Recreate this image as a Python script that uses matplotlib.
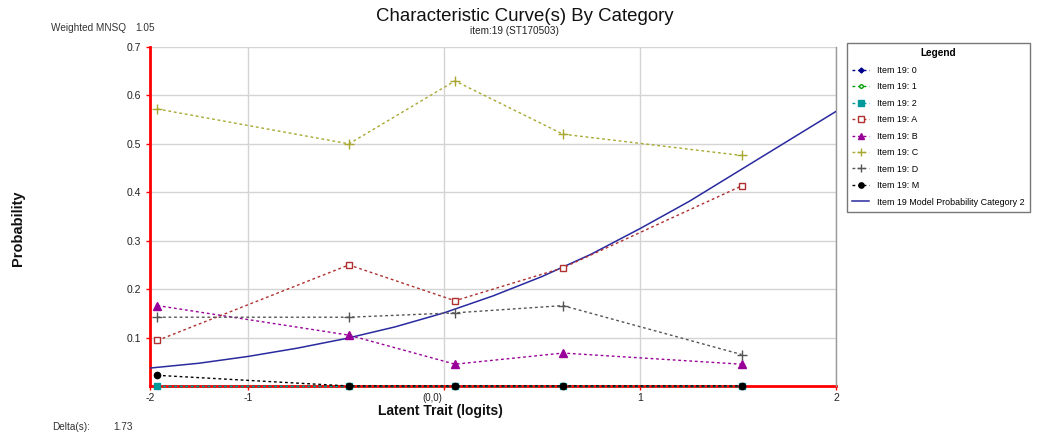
import matplotlib
matplotlib.use('Agg')
import matplotlib.pyplot as plt
import matplotlib.transforms as mtransforms

plt.rcParams['font.family'] = ['Liberation Sans', 'DejaVu Sans']

# group mean abilities (logits)
x_groups = [-1.462, -0.485, 0.056, 0.607, 1.518]

# observed proportions per category
cat_0 = [0, 0, 0, 0, 0]
cat_1 = [0, 0, 0, 0, 0]
cat_2 = [0, 0, 0, 0, 0]
cat_A = [0.094, 0.250, 0.176, 0.244, 0.413]
cat_B = [0.166, 0.105, 0.045, 0.068, 0.045]
cat_C = [0.572, 0.500, 0.630, 0.520, 0.476]
cat_D = [0.142, 0.142, 0.151, 0.166, 0.065]
cat_M = [0.022, 0, 0, 0, 0]

# model probability curve (category 2)
model_x = [-1.5, -1.25, -1.0, -0.75, -0.5, -0.25, 0.0, 0.25, 0.5, 0.75,
           1.0, 1.25, 1.5, 1.75, 2.0]
model_y = [0.037, 0.047, 0.061, 0.078, 0.098, 0.122, 0.151, 0.186, 0.226,
           0.272, 0.325, 0.381, 0.443, 0.505, 0.567]

x_ticks = [-1.5, -1, 0, 1, 2]
x_ticklabels = ['-2', '-1', '(0,0)', '1', '2']
y_ticks = [0.1, 0.2, 0.3, 0.4, 0.5, 0.6, 0.7]

fig = plt.figure(figsize=(10.38, 4.43), dpi=100)
ax = fig.add_axes([0.1445, 0.1287, 0.6609, 0.7652])

ls = (0, (2, 2))
series = [
    ('Item 19: 0', cat_0, '#00008b', 'D', '#00008b', 3),
    ('Item 19: 1', cat_1, '#00a000', 'o', 'white', 3),
    ('Item 19: 2', cat_2, '#009a9a', 's', '#009a9a', 4.3),
    ('Item 19: A', cat_A, '#b03030', 's', 'white', 4.8),
    ('Item 19: B', cat_B, '#990099', '^', '#990099', 5.2),
    ('Item 19: C', cat_C, '#a8a830', '+', '#a8a830', 7.5),
    ('Item 19: D', cat_D, '#555555', '+', '#555555', 7.5),
    ('Item 19: M', cat_M, '#000000', 'o', '#000000', 4.5),
]
for name, vals, col, mk, fc, ms in series:
    ax.plot(x_groups, vals, linestyle=ls, linewidth=1, color=col, marker=mk,
            markerfacecolor=fc, markeredgecolor=col, markersize=ms,
            markeredgewidth=1, label=name, clip_on=False, zorder=4)

ax.plot(model_x, model_y, color='#2a2aa0', linewidth=1.1,
        label='Item 19 Model Probability Category 2', zorder=3)

ax.set_xlim(-1.5, 2)
ax.set_ylim(0, 0.7)
ax.set_xticks(x_ticks)
ax.set_xticklabels(x_ticklabels)
ax.set_yticks(y_ticks)
ax.set_yticklabels(['%.1f' % v for v in y_ticks])
ax.tick_params(axis='both', colors='red', labelcolor='#222222', labelsize=7.5,
               length=3, width=1)
ax.tick_params(axis='x', pad=2)
shift = mtransforms.ScaledTranslation(-12 / 100, 0, fig.dpi_scale_trans)
for lab in ax.get_xticklabels():
    if lab.get_text() == '(0,0)':
        lab.set_fontsize(7)
        lab.set_transform(lab.get_transform() + shift)

ax.grid(True, color='#d4d4d4', linewidth=1)
ax.set_axisbelow(True)
ax.spines['left'].set_color('red')
ax.spines['left'].set_linewidth(2)
ax.spines['bottom'].set_color('red')
ax.spines['bottom'].set_linewidth(2)
ax.spines['bottom'].set_zorder(2)
ax.spines['top'].set_visible(False)
ax.spines['right'].set_color('#999999')
ax.spines['right'].set_linewidth(1)

fig.text(0.506, 0.962, 'Characteristic Curve(s) By Category', ha='center',
         va='center', fontsize=13.4, color='#111111')
fig.text(0.496, 0.929, 'item:19 (ST170503)', ha='center', va='center',
         fontsize=7.2, color='#222222')
fig.text(0.049, 0.937, 'Weighted MNSQ', ha='left', va='center',
         fontsize=7.2, color='#333333')
fig.text(0.130, 0.937, '1.05', ha='left', va='center',
         fontsize=7.2, color='#333333')
fig.text(0.050, 0.037, 'Delta(s):', ha='left', va='center',
         fontsize=7.2, color='#333333')
fig.text(0.109, 0.037, '1.73', ha='left', va='center',
         fontsize=7.2, color='#333333')
fig.text(0.424, 0.072, 'Latent Trait (logits)', ha='center', va='center',
         fontsize=10, fontweight='bold', color='#111111')
fig.text(0.017, 0.485, 'Probability', ha='center', va='center',
         rotation=90, fontsize=10.5, fontweight='bold', color='#111111')

leg = ax.legend(loc='upper left', bbox_to_anchor=(0.816, 0.903),
                bbox_transform=fig.transFigure, title='Legend',
                fontsize=6.4, title_fontproperties={'weight': 'bold', 'size': 7.2},
                frameon=True, fancybox=False, edgecolor='#555555',
                handlelength=1.9, labelspacing=0.84, borderpad=0.6,
                handletextpad=0.9, borderaxespad=0, markerscale=0.85)
leg.get_frame().set_linewidth(1)

fig.savefig('out.png', dpi=100)
